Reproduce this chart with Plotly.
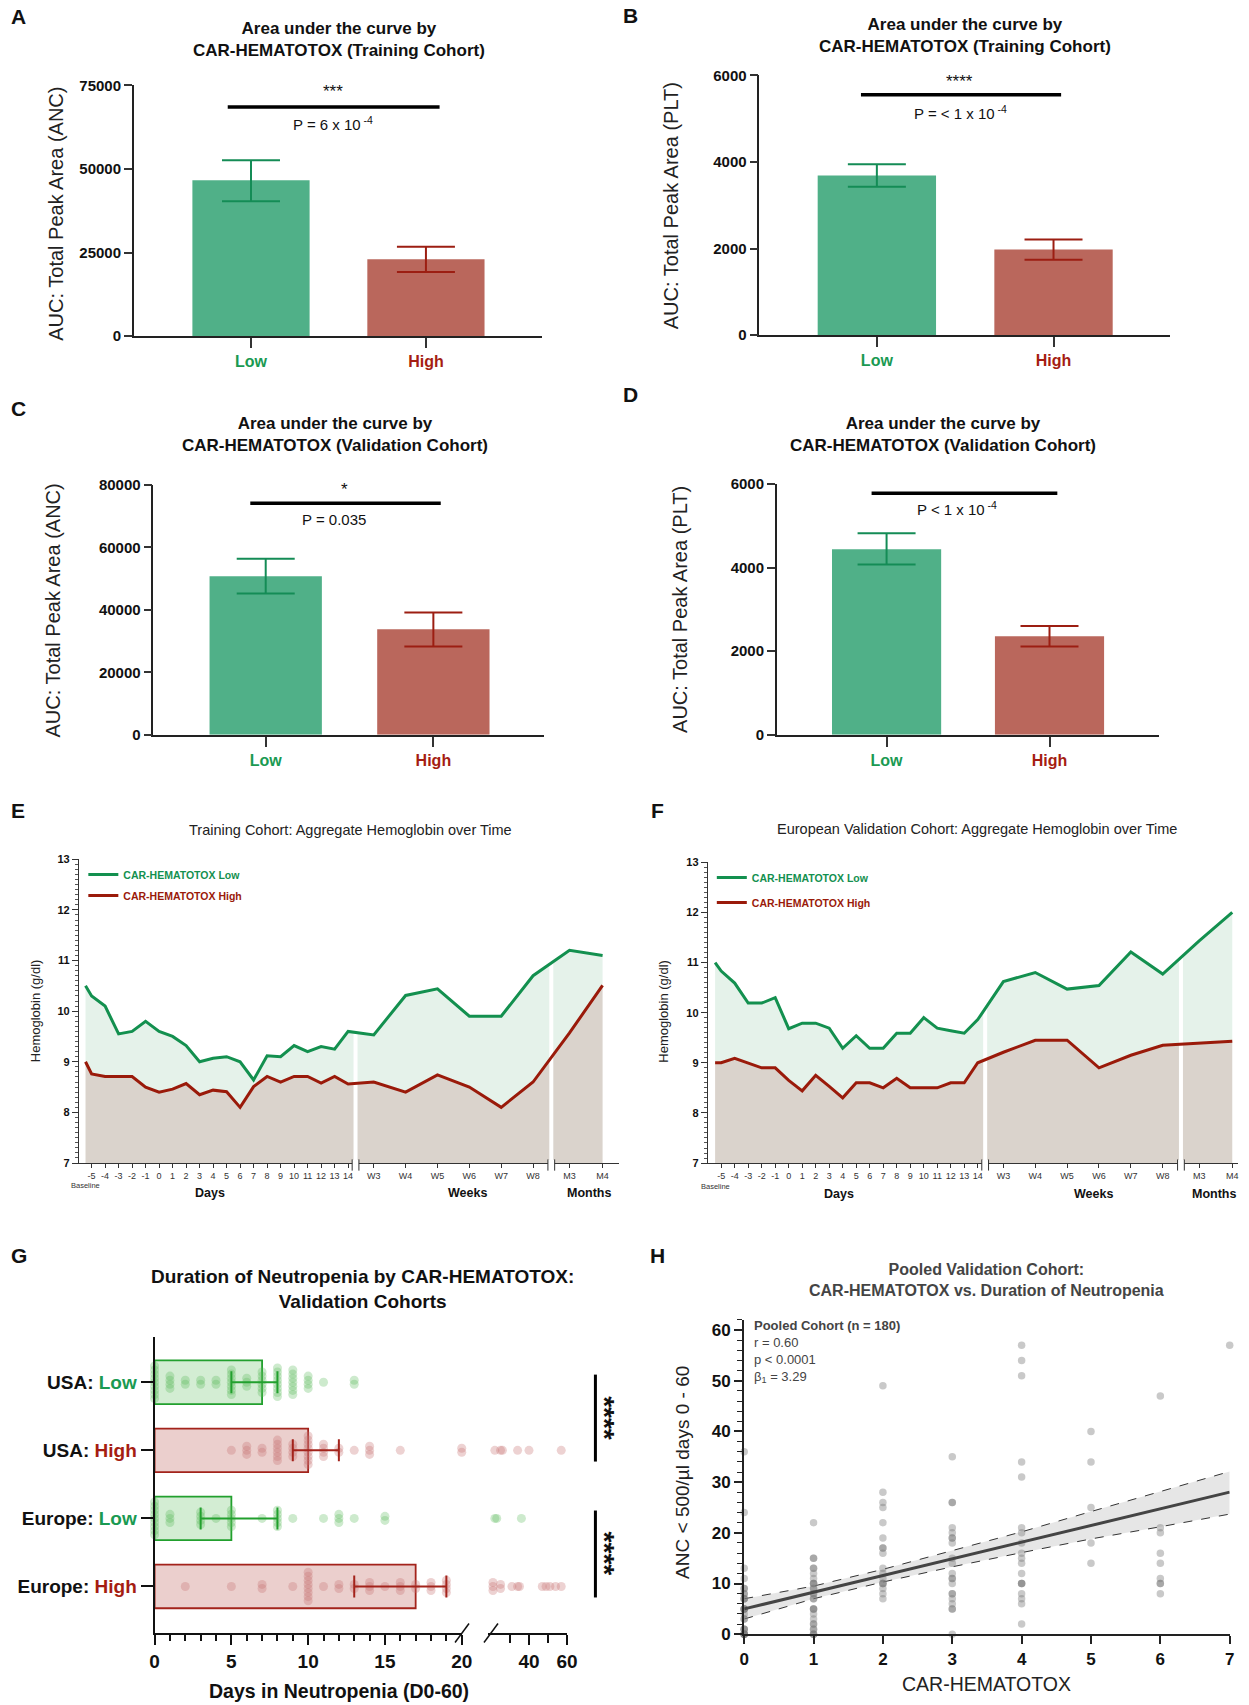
import plotly.graph_objects as go

W, H = 1249, 1705
FONT = "Liberation Sans, Arial, Helvetica, sans-serif"

# ======================= DATA =======================
# Panels A-D: AUC bars (Low / High CAR-HEMATOTOX)
auc_groups = ["Low", "High"]
auc_a_mean = [46600, 23000]
auc_a_upper = [52600, 26700]
auc_a_lower = [40300, 19200]
auc_b_mean = [3690, 1980]
auc_b_upper = [3950, 2210]
auc_b_lower = [3430, 1740]
auc_c_mean = [50800, 33800]
auc_c_upper = [56350, 39150]
auc_c_lower = [45250, 28250]
auc_d_mean = [4435, 2356]
auc_d_upper = [4818, 2603]
auc_d_lower = [4075, 2109]

# Panels E-F: hemoglobin over time
hb_day_labels = ["-5", "-4", "-3", "-2", "-1", "0", "1", "2", "3", "4", "5", "6", "7",
                 "8", "9", "10", "11", "12", "13", "14"]
hb_week_labels = ["W3", "W4", "W5", "W6", "W7", "W8"]
hb_month_labels = ["M3", "M4"]
hb_labels = ["Baseline"] + hb_day_labels + hb_week_labels + hb_month_labels

hb_e_low = [10.5, 10.3, 10.1, 9.55, 9.6, 9.8, 9.6, 9.5, 9.32, 9.0, 9.07, 9.1, 9.0, 8.64,
            9.12, 9.1, 9.32, 9.2, 9.3, 9.25, 9.6, 9.53, 10.31, 10.44, 9.9, 9.9, 10.7, 11.2, 11.1]
hb_e_high = [9.0, 8.76, 8.71, 8.71, 8.71, 8.5, 8.4, 8.46, 8.57, 8.35, 8.44, 8.41, 8.1, 8.51,
             8.71, 8.6, 8.71, 8.71, 8.58, 8.71, 8.56, 8.6, 8.4, 8.74, 8.5, 8.1, 8.6, 9.57, 10.51]
hb_f_low = [11.0, 10.83, 10.59, 10.19, 10.19, 10.3, 9.68, 9.79, 9.79, 9.69, 9.29, 9.54, 9.29, 9.29,
            9.59, 9.59, 9.9, 9.69, 9.64, 9.59, 9.86, 10.62, 10.8, 10.47, 10.54, 11.21, 10.77, 11.43, 12.0]
hb_f_high = [9.0, 9.0, 9.09, 8.99, 8.9, 8.9, 8.65, 8.44, 8.75, 8.53, 8.3, 8.6, 8.6, 8.5,
             8.69, 8.5, 8.5, 8.5, 8.6, 8.6, 9.0, 9.21, 9.45, 9.45, 8.9, 9.15, 9.35, 9.39, 9.43]

# Panel G: duration of neutropenia
g_labels = ["USA: Low", "USA: High", "Europe: Low", "Europe: High"]
g_bar = [7, 10, 5, 17]
g_err_low = [5, 9, 3, 13]
g_err_high = [8, 12, 8, 19]
usa_low_vals = [0, 1, 2, 3, 4, 5, 6, 7, 8, 9, 10, 11, 13]
usa_low_counts = [9, 4, 2, 2, 2, 7, 3, 6, 8, 7, 4, 1, 2]
usa_high_vals = [5, 6, 7, 8, 9, 10, 11, 12, 13, 14, 16, 20, 22, 25, 26, 34, 40, 57]
usa_high_counts = [1, 3, 2, 6, 4, 8, 4, 2, 1, 3, 1, 2, 1, 1, 1, 1, 1, 1]
eu_low_vals = [0, 1, 3, 4, 5, 7, 8, 9, 11, 12, 13, 15, 22, 23, 36]
eu_low_counts = [9, 3, 4, 1, 5, 1, 5, 1, 1, 3, 1, 2, 1, 1, 1]
eu_high_vals = [2, 5, 7, 9, 10, 11, 12, 13, 14, 15, 16, 17, 18, 19, 21, 25, 31, 34, 35, 47, 49, 51, 54, 57]
eu_high_counts = [1, 1, 2, 1, 8, 1, 2, 2, 3, 1, 3, 2, 3, 4, 3, 2, 1, 1, 1, 1, 1, 1, 1, 1]

# Panel H: pooled cohort scatter (days ANC<500 by score)
h_score0 = [36, 24, 13, 11, 9, 9, 8, 8, 7, 7, 7, 5, 5, 5, 5, 4, 3, 3, 1, 1, 1, 0, 0, 0, 0, 0]
h_score1 = [22, 15, 15, 13, 13, 12, 11, 10, 10, 10, 9, 9, 8, 8, 7, 7, 5, 5, 5, 4, 3, 2, 2, 1, 1, 0, 0, 0]
h_score2 = [49, 28, 26, 25, 22, 19, 17, 17, 16, 13, 12, 11, 10, 10, 10, 9, 8, 7]
h_score3 = [35, 26, 26, 21, 20, 19, 19, 18, 15, 14, 12, 11, 11, 10, 8, 8, 7, 6, 5, 5, 0]
h_score4 = [57, 54, 51, 34, 31, 21, 20, 18, 16, 15, 14, 12, 10, 10, 10, 8, 7, 6, 2]
h_score5 = [40, 34, 25, 18, 14]
h_score6 = [47, 21, 20, 16, 14, 11, 10, 10, 8]
h_score7 = [57]
h_fit_intercept = 5.0
h_fit_slope = 3.29
h_ci_x = [0, 1, 2, 3, 4, 5, 6, 7]
h_ci_lower = [3.0, 7.0, 10.3, 13.3, 16.1, 18.8, 21.2, 23.7]
h_ci_upper = [7.0, 9.5, 12.8, 16.5, 20.2, 24.2, 28.1, 32.1]

# ======================= STYLE =======================
GREEN_BAR = "#50b088"
RED_BAR = "#ba675c"
GREEN_ERR = "#148c56"
RED_ERR = "#9c1e12"
GREEN_TXT = "#1a9a52"
RED_TXT = "#a51d12"
LINE_GREEN = "#13904f"
LINE_RED = "#9a1a0a"
FILL_GREEN = "#e5f2ea"
FILL_BEIGE = "#dad3cc"

# page-placement calibration (target pixel -> layout pixel)
SX, OX = 0.988, 2.6
SY, OY = 0.9895, 8.5


def cx(x):
    return (x - OX) / SX


def cy(y):
    return (y - OY) / SY


def px(x):
    return min(max(cx(x) / W, 0.0), 1.0)


def py(y):
    return min(max(1 - cy(y) / H, 0.0), 1.0)


def xd(a, b):
    return [px(a), px(b)]


def yd(top, bottom):
    return [py(bottom), py(top)]


def fit_xrange(xpx, xr):
    """Clip a domain to the page and shorten the range so the scale stays the same."""
    a, b = cx(xpx[0]), cx(xpx[1])
    if b > W:
        span = xr[1] - xr[0]
        xr = [xr[0], xr[0] + span * (W - a) / (b - a)]
    return xr


def names(k):
    if k == 1:
        return "x", "y", "xaxis", "yaxis"
    return f"x{k}", f"y{k}", f"xaxis{k}", f"yaxis{k}"


fig = go.Figure()
layout = dict(width=W, height=H, margin=dict(l=0, r=0, t=0, b=0),
              paper_bgcolor="white", plot_bgcolor="white",
              font=dict(family=FONT, color="#111"), showlegend=True)
annotations = []
shapes = []


def ann(text, x, y, size, bold=False, color="#111", xref="paper", yref="paper",
        xanchor="center", yanchor="middle", angle=0, align="center"):
    annotations.append(dict(text=text, x=x, y=y, xref=xref, yref=yref, showarrow=False,
                            xanchor=xanchor, yanchor=yanchor, textangle=angle, align=align,
                            font=dict(size=size, family=FONT, color=color,
                                      weight="bold" if bold else "normal")))


def colored_group(label):
    col = GREEN_TXT if label == "Low" else RED_TXT
    return f"<span style='color:{col}'>{label}</span>"


# ======================= PANELS A-D =======================
auc_specs = [
    dict(k=1, mean=auc_a_mean, upper=auc_a_upper, lower=auc_a_lower, ymax=75000, dtick=25000,
         xpx=(131.5, 540.3), ypx=(84.8, 335.9), xr=[-0.67, 1.665],
         bracket=(-0.133, 1.078, 68500), stars=("***", 0.47, 73000),
         ptxt=("P = 6 x 10<sup> -4</sup>", 0.47, 63500),
         title_xy=(337, 39), title="Area under the curve by<br>CAR-HEMATOTOX (Training Cohort)",
         ytitle="AUC: Total Peak Area (ANC)", ytitle_xy=(54, 213), letter=("A", 7, 16)),
    dict(k=2, mean=auc_b_mean, upper=auc_b_upper, lower=auc_b_lower, ymax=6000, dtick=2000,
         xpx=(757.6, 1168.5), ypx=(75, 334.8), xr=[-0.665, 1.659],
         bracket=(-0.09, 1.043, 5553), stars=("****", 0.469, 5860),
         ptxt=("P = &lt; 1 x 10<sup> -4</sup>", 0.475, 5150),
         title_xy=(963, 35), title="Area under the curve by<br>CAR-HEMATOTOX (Training Cohort)",
         ytitle="AUC: Total Peak Area (PLT)", ytitle_xy=(670, 205), letter=("B", 619, 15)),
    dict(k=3, mean=auc_c_mean, upper=auc_c_upper, lower=auc_c_lower, ymax=80000, dtick=20000,
         xpx=(151.1, 542.4), ypx=(484.8, 734.8), xr=[-0.67, 1.662],
         bracket=(-0.092, 1.044, 74120), stars=("*", 0.467, 78500),
         ptxt=("P = 0.035", 0.406, 68800),
         title_xy=(332.6, 434), title="Area under the curve by<br>CAR-HEMATOTOX (Validation Cohort)",
         ytitle="AUC: Total Peak Area (ANC)", ytitle_xy=(51, 610), letter=("C", 7, 408)),
    dict(k=4, mean=auc_d_mean, upper=auc_d_upper, lower=auc_d_lower, ymax=6000, dtick=2000,
         xpx=(775, 1157.7), ypx=(483.7, 734.8), xr=[-0.674, 1.673],
         bracket=(-0.092, 1.048, 5776), stars=("****", 0.467, 6110),
         ptxt=("P &lt; 1 x 10<sup> -4</sup>", 0.43, 5420),
         title_xy=(941.4, 434), title="Area under the curve by<br>CAR-HEMATOTOX (Validation Cohort)",
         ytitle="AUC: Total Peak Area (PLT)", ytitle_xy=(678, 609), letter=("D", 619, 394)),
]

for s in auc_specs:
    xa, ya, xkey, ykey = names(s["k"])
    bar_cols = [GREEN_BAR, RED_BAR]
    err_cols = [GREEN_ERR, RED_ERR]
    for i, g in enumerate(auc_groups):
        fig.add_trace(go.Bar(
            x=[i], y=[s["mean"][i]], width=0.67, xaxis=xa, yaxis=ya, showlegend=False,
            marker=dict(color=bar_cols[i], line=dict(width=0)),
            error_y=dict(type="data", symmetric=False,
                         array=[s["upper"][i] - s["mean"][i]],
                         arrayminus=[s["mean"][i] - s["lower"][i]],
                         color=err_cols[i], thickness=2, width=29),
            hoverinfo="skip"))
    layout[xkey] = dict(domain=xd(*s["xpx"]), range=fit_xrange(s["xpx"], s["xr"]), anchor=ya,
                        showline=True, linecolor="#222", linewidth=1.5,
                        tickvals=list(range(len(auc_groups))),
                        ticktext=[colored_group(g) for g in auc_groups],
                        ticks="outside", ticklen=10, tickwidth=1.5, tickcolor="#333",
                        tickfont=dict(size=16, family=FONT, weight="bold"),
                        showgrid=False, zeroline=False)
    layout[ykey] = dict(domain=yd(*s["ypx"]), range=[0, s["ymax"]], anchor=xa,
                        showline=True, linecolor="#222", linewidth=1.5,
                        tick0=0, dtick=s["dtick"], tickformat="d",
                        ticks="outside", ticklen=8, tickwidth=1.5, tickcolor="#333",
                        tickfont=dict(size=15, family=FONT, weight="bold"),
                        showgrid=False, zeroline=False)
    b0, b1, by = s["bracket"]
    shapes.append(dict(type="line", xref=xa, yref=ya, x0=b0, x1=b1, y0=by, y1=by,
                       line=dict(color="black", width=3.5)))
    ann(s["stars"][0], s["stars"][1], s["stars"][2], 17, xref=xa, yref=ya)
    ann(s["ptxt"][0], s["ptxt"][1], s["ptxt"][2], 15, xref=xa, yref=ya)
    ann(s["title"], px(s["title_xy"][0]), py(s["title_xy"][1]), 17, bold=True)
    ann(s["ytitle"], px(s["ytitle_xy"][0]), py(s["ytitle_xy"][1]), 20, color="#222", angle=-90)
    ann(s["letter"][0], px(s["letter"][1]), py(s["letter"][2]), 21, bold=True, xanchor="left")

# ======================= PANELS E-F =======================
BASE_POS = -5.45
WEEK0, WEEK_STEP = 15.9, 2.36
MONTH0, MONTH_STEP = 30.4, 2.45
BREAKS = [14.55, 29.05]
hb_pos = ([BASE_POS] + [float(d) for d in hb_day_labels]
          + [WEEK0 + WEEK_STEP * i for i in range(len(hb_week_labels))]
          + [MONTH0 + MONTH_STEP * i for i in range(len(hb_month_labels))])
hb_tickvals = hb_pos[1:]
hb_ticktext = hb_labels[1:]

hb_specs = [
    dict(k=5, low=hb_e_low, high=hb_e_high, xpx=(76.7, 617.3), ypx=(859.3, 1163.3),
         xr=[-5.93, 34.08], legend="legend",
         title="Training Cohort: Aggregate Hemoglobin over Time", title_xy=(348, 830.5),
         ytitle_xy=(33, 1011), letter=("E", 7, 811),
         groups=[("Days", 207.6), ("Weeks", 465), ("Months", 587)], group_y=1193,
         base_y=1186),
    dict(k=6, low=hb_f_low, high=hb_f_high, xpx=(706, 1243.3), ypx=(862.3, 1163.3),
         xr=[-5.99, 33.77], legend="legend2",
         title="European Validation Cohort: Aggregate Hemoglobin over Time", title_xy=(975, 829),
         ytitle_xy=(662, 1011), letter=("F", 647, 811),
         groups=[("Days", 837), ("Weeks", 1092), ("Months", 1213)], group_y=1194,
         base_y=1187),
]

for s in hb_specs:
    xa, ya, xkey, ykey = names(s["k"])
    common = dict(xaxis=xa, yaxis=ya, hoverinfo="skip")
    fig.add_trace(go.Scatter(x=hb_pos, y=s["high"], mode="lines", fill="tozeroy",
                             fillcolor=FILL_BEIGE, line=dict(width=0), showlegend=False, **common))
    fig.add_trace(go.Scatter(x=hb_pos, y=s["low"], mode="lines", fill="tonexty",
                             fillcolor=FILL_GREEN, line=dict(width=0), showlegend=False, **common))
    for brk in BREAKS:
        fig.add_trace(go.Scatter(x=[brk, brk], y=[7, 13], mode="lines",
                                 line=dict(color="white", width=4), showlegend=False, **common))
    fig.add_trace(go.Scatter(x=hb_pos, y=s["low"], mode="lines",
                             line=dict(color=LINE_GREEN, width=3),
                             name=f"<span style='color:{LINE_GREEN}'>CAR-HEMATOTOX Low</span>",
                             legend=s["legend"], legendgroup="low", showlegend=True, **common))
    fig.add_trace(go.Scatter(x=hb_pos, y=s["high"], mode="lines",
                             line=dict(color=LINE_RED, width=3),
                             name=f"<span style='color:{LINE_RED}'>CAR-HEMATOTOX High</span>",
                             legend=s["legend"], legendgroup="high", showlegend=True, **common))
    layout[xkey] = dict(domain=xd(*s["xpx"]), range=fit_xrange(s["xpx"], s["xr"]), anchor=ya,
                        showline=True, linecolor="#333", linewidth=1.2,
                        tickvals=hb_tickvals, ticktext=hb_ticktext, tickangle=0,
                        ticks="outside", ticklen=4, tickwidth=1, tickcolor="#333",
                        tickfont=dict(size=9, family=FONT, color="#333"),
                        showgrid=False, zeroline=False)
    layout[ykey] = dict(domain=yd(*s["ypx"]), range=[7, 13], anchor=xa,
                        showline=True, linecolor="#333", linewidth=1.2,
                        tick0=7, dtick=1, ticks="outside", ticklen=6, tickwidth=1.2,
                        tickcolor="#333",
                        tickfont=dict(size=11, family=FONT, weight="bold"),
                        minor=dict(dtick=0.1, ticks="outside", ticklen=3, tickcolor="#555",
                                   tickwidth=0.8),
                        showgrid=False, zeroline=False)
    # axis break marks
    for brk in BREAKS:
        shapes.append(dict(type="rect", xref=xa, yref=f"{ya} domain", x0=brk - 0.25, x1=brk + 0.25,
                           y0=-0.01, y1=0.01, fillcolor="white", line=dict(width=0)))
        for d in (-0.25, 0.25):
            shapes.append(dict(type="line", xref=xa, yref=f"{ya} domain", x0=brk + d, x1=brk + d,
                               y0=-0.025, y1=0.012, line=dict(color="#333", width=1)))
    ann(s["title"], px(s["title_xy"][0]), py(s["title_xy"][1]), 14.5, color="#222")
    ann("Hemoglobin (g/dl)", px(s["ytitle_xy"][0]), py(s["ytitle_xy"][1]), 13, color="#222", angle=-90)
    ann(s["letter"][0], px(s["letter"][1]), py(s["letter"][2]), 21, bold=True, xanchor="left")
    ann("Baseline", BASE_POS, py(s["base_y"]), 7.5, color="#333", xref=xa)
    for txt, gx in s["groups"]:
        ann(txt, px(gx), py(s["group_y"]), 12.5, bold=True)

layout["legend"] = dict(x=px(81), y=py(860), xanchor="left", yanchor="top",
                        bgcolor="rgba(0,0,0,0)", itemwidth=30, tracegroupgap=2,
                        font=dict(size=10.5, family=FONT, weight="bold"))
layout["legend2"] = dict(x=px(710), y=py(863), xanchor="left", yanchor="top",
                         bgcolor="rgba(0,0,0,0)", itemwidth=30, tracegroupgap=6,
                         font=dict(size=10.5, family=FONT, weight="bold"))

# ======================= PANEL G =======================
G_LOW_FILL, G_LOW_EDGE, G_LOW_DOT = "rgba(110,195,110,0.30)", "#22a02e", "rgba(90,185,90,0.30)"
G_HIGH_FILL, G_HIGH_EDGE, G_HIGH_DOT = "rgba(190,95,90,0.30)", "#a3231b", "rgba(200,115,115,0.32)"
g_dots = [(usa_low_vals, usa_low_counts), (usa_high_vals, usa_high_counts),
          (eu_low_vals, eu_low_counts), (eu_high_vals, eu_high_counts)]
BREAK_VAL = 20
STACK = 0.06

for i, lab in enumerate(g_labels):
    is_low = lab.endswith("Low")
    fill = G_LOW_FILL if is_low else G_HIGH_FILL
    edge = G_LOW_EDGE if is_low else G_HIGH_EDGE
    dotc = G_LOW_DOT if is_low else G_HIGH_DOT
    fig.add_trace(go.Bar(x=[g_bar[i]], y=[i], orientation="h", width=0.64,
                         marker=dict(color=fill, line=dict(color=edge, width=1.8)),
                         xaxis="x7", yaxis="y7", showlegend=False, hoverinfo="skip"))
    xs1, ys1, xs2, ys2 = [], [], [], []
    vals, counts = g_dots[i]
    for v, c in zip(vals, counts):
        for kk in range(c):
            yy = i + (kk - (c - 1) / 2) * STACK
            if v <= BREAK_VAL:
                xs1.append(v); ys1.append(yy)
            else:
                xs2.append(v); ys2.append(yy)
    fig.add_trace(go.Scatter(x=xs1, y=ys1, mode="markers", xaxis="x7", yaxis="y7",
                             marker=dict(size=9, color=dotc, line=dict(width=0)),
                             cliponaxis=False, showlegend=False, hoverinfo="skip"))
    fig.add_trace(go.Scatter(x=xs2, y=ys2, mode="markers", xaxis="x8", yaxis="y7",
                             marker=dict(size=9, color=dotc, line=dict(width=0)),
                             cliponaxis=False, showlegend=False, hoverinfo="skip"))
    fig.add_trace(go.Scatter(x=[g_bar[i]], y=[i], mode="markers", xaxis="x7", yaxis="y7",
                             marker=dict(size=1, color="rgba(0,0,0,0)"),
                             error_x=dict(type="data", symmetric=False,
                                          array=[g_err_high[i] - g_bar[i]],
                                          arrayminus=[g_bar[i] - g_err_low[i]],
                                          color=edge, thickness=2, width=11),
                             showlegend=False, hoverinfo="skip"))


def g_ticktext(label):
    prefix, grp = label.split(": ")
    return f"{prefix}: {colored_group(grp)}"


G_XTICK = dict(size=19, family=FONT, weight="bold", color="#111")
layout["xaxis7"] = dict(domain=xd(152.3, 459.7), range=[0, 20], anchor="y7",
                        showline=True, linecolor="#111", linewidth=2,
                        tick0=0, dtick=5, ticks="outside", ticklen=10, tickwidth=2, tickcolor="#111",
                        minor=dict(dtick=1, ticks="outside", ticklen=6, tickwidth=1.5, tickcolor="#111"),
                        tickfont=G_XTICK, showgrid=False, zeroline=False)
layout["xaxis8"] = dict(domain=xd(486.2, 565), range=[18.5, 60], anchor="y7",
                        showline=True, linecolor="#111", linewidth=2,
                        tickvals=[40, 60], ticks="outside", ticklen=10, tickwidth=2, tickcolor="#111",
                        minor=dict(tickvals=[30, 50], ticks="outside", ticklen=8, tickwidth=1.5,
                                   tickcolor="#111"),
                        tickfont=G_XTICK, showgrid=False, zeroline=False)
layout["yaxis7"] = dict(domain=yd(1337, 1634), range=[3.69, -0.67], anchor="x7",
                        showline=True, linecolor="#111", linewidth=2,
                        tickvals=list(range(len(g_labels))),
                        ticktext=[g_ticktext(l) for l in g_labels],
                        ticks="outside", ticklen=12, tickwidth=2, tickcolor="#111",
                        tickfont=dict(size=19, family=FONT, weight="bold", color="#111"),
                        showgrid=False, zeroline=False)
# broken-axis slashes
for (x0, x1) in [(453, 467), (482, 496)]:
    shapes.append(dict(type="line", xref="paper", yref="paper", x0=px(x0), x1=px(x1),
                       y0=py(1643), y1=py(1624), line=dict(color="#111", width=1.5)))
# significance bars
for (y0, y1, sy) in [(1375, 1462, 1418.5), (1511, 1598, 1554)]:
    shapes.append(dict(type="line", xref="paper", yref="paper", x0=px(593.5), x1=px(593.5),
                       y0=py(y0), y1=py(y1), line=dict(color="black", width=3)))
    ann("****", px(603), py(sy), 28, bold=True, angle=90)
ann("Duration of Neutropenia by CAR-HEMATOTOX:<br>Validation Cohorts", px(360), py(1289), 19, bold=True)
ann("Days in Neutropenia (D0-60)", px(337), py(1692), 19.5, bold=True)
ann("G", px(7), py(1256), 21, bold=True, xanchor="left")

# ======================= PANEL H =======================
h_lists = [h_score0, h_score1, h_score2, h_score3, h_score4, h_score5, h_score6, h_score7]
h_x, h_y = [], []
for sc, lst in enumerate(h_lists):
    for v in lst:
        h_x.append(sc); h_y.append(v)

fig.add_trace(go.Scatter(x=h_ci_x, y=h_ci_lower, mode="lines", xaxis="x9", yaxis="y9",
                         line=dict(color="#333", width=1, dash="dash"),
                         showlegend=False, hoverinfo="skip"))
fig.add_trace(go.Scatter(x=h_ci_x, y=h_ci_upper, mode="lines", xaxis="x9", yaxis="y9",
                         fill="tonexty", fillcolor="rgba(200,200,200,0.45)",
                         line=dict(color="#333", width=1, dash="dash"),
                         showlegend=False, hoverinfo="skip"))
fig.add_trace(go.Scatter(x=h_x, y=h_y, mode="markers", xaxis="x9", yaxis="y9",
                         marker=dict(size=7.5, color="rgba(120,120,120,0.40)", line=dict(width=0)),
                         cliponaxis=False, showlegend=False, hoverinfo="skip"))
fit_x = [h_ci_x[0], h_ci_x[-1]]
fit_y = [h_fit_intercept + h_fit_slope * v for v in fit_x]
fig.add_trace(go.Scatter(x=fit_x, y=fit_y, mode="lines", xaxis="x9", yaxis="y9",
                         line=dict(color="#444", width=3), showlegend=False, hoverinfo="skip"))

H_TICK = dict(size=17, family=FONT, weight="bold", color="#111")
layout["xaxis9"] = dict(domain=xd(742.4, 1228.3), range=[0, 7], anchor="y9",
                        showline=True, linecolor="#222", linewidth=2,
                        tick0=0, dtick=1, ticks="outside", ticklen=8, tickwidth=2, tickcolor="#222",
                        tickfont=H_TICK, showgrid=False, zeroline=False)
layout["yaxis9"] = dict(domain=yd(1320.3, 1634.8), range=[0, 62], anchor="x9",
                        showline=True, linecolor="#222", linewidth=2,
                        tickvals=[0, 10, 20, 30, 40, 50, 60], ticks="outside", ticklen=8,
                        tickwidth=2, tickcolor="#222",
                        minor=dict(dtick=2, ticks="outside", ticklen=5, tickwidth=1.2, tickcolor="#222"),
                        tickfont=H_TICK, showgrid=False, zeroline=False)
ann("Pooled Validation Cohort:<br>CAR-HEMATOTOX vs. Duration of Neutropenia", px(985), py(1280),
    16, bold=True, color="#444")
ann("<b>Pooled Cohort (n = 180)</b><br>r = 0.60<br>p &lt; 0.0001<br>β<sub>1</sub> = 3.29",
    px(750), py(1316), 13, color="#444", xanchor="left", yanchor="top", align="left")
ann("CAR-HEMATOTOX", px(985), py(1685), 19.5, color="#222")
ann("ANC &lt; 500/µl days 0 - 60", px(680.5), py(1473), 19, color="#222", angle=-90)
ann("H", px(646), py(1256), 21, bold=True, xanchor="left")

layout["annotations"] = annotations
layout["shapes"] = shapes
fig.update_layout(**layout)
fig.write_html("out.html",
               config={"displayModeBar": False},
               post_script="document.body.style.margin='0';document.body.style.padding='0';"
                           "document.documentElement.style.overflow='hidden';")
